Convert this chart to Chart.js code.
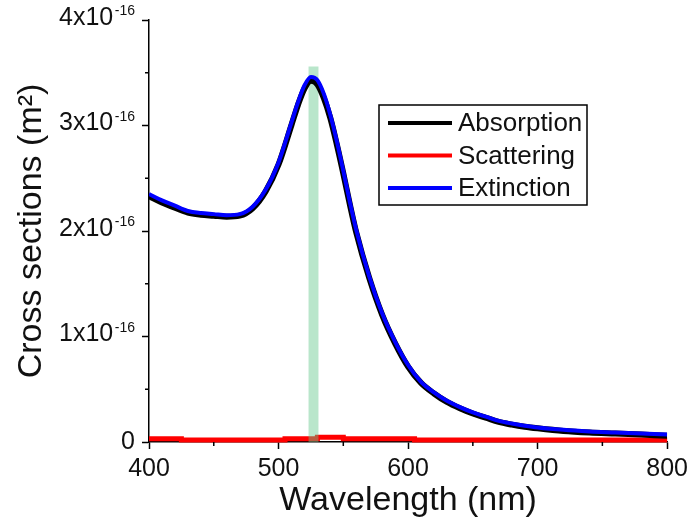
<!DOCTYPE html>
<html><head><meta charset="utf-8">
<script src="https://cdn.jsdelivr.net/npm/chart.js@4.4.1/dist/chart.umd.min.js"></script>
<style>html,body{margin:0;padding:0;background:#fff;overflow:hidden;}</style>
</head><body>
<canvas id="c" width="693" height="527"></canvas>
<script>
// Wavelength grid (nm)
const wavelengths = [400,410,420,430,440,450,460,470,480,490,500,510,515,520,525,530,535,540,545,550,555,560,570,580,590,600,610,620,630,640,650,660,670,680,690,700,720,740,760,780,800];
// Cross sections in units of 1e-16 m^2
const absorption = [2.33,2.27,2.22,2.175,2.155,2.145,2.135,2.145,2.215,2.375,2.63,3.005,3.195,3.35,3.425,3.39,3.26,3.07,2.82,2.545,2.255,1.985,1.555,1.205,0.935,0.715,0.56,0.46,0.38,0.32,0.27,0.23,0.19,0.165,0.145,0.13,0.105,0.09,0.08,0.07,0.06];
const extinction = [2.35,2.29,2.24,2.19,2.17,2.16,2.15,2.16,2.23,2.39,2.65,3.03,3.22,3.38,3.46,3.43,3.30,3.10,2.85,2.57,2.28,2.01,1.57,1.22,0.95,0.73,0.57,0.47,0.39,0.33,0.28,0.24,0.20,0.175,0.155,0.138,0.115,0.10,0.09,0.08,0.07];
const scatteringWl = [400,425,505,530,550,605,800];
const scattering = [0.03,0.02,0.03,0.045,0.03,0.018,0.018];
// Highlight band (nm) and its top (1e-16 m^2)
const bandWl = [523,531];
const bandTop = [3.56,3.56];
const seriesNames = ['Absorption','Scattering','Extinction'];
const seriesColors = ['#000000','#ff0000','#0000ff'];
const xTickValues = [400,500,600,700,800];
const xMinorTicks = [450,550,650,750];
const yTickValues = [0,1,2,3,4];
const yMinorTicks = [0.5,1.5,2.5,3.5];
const yExponent = '-16';
const xTitle = 'Wavelength (nm)';
const yTitle = 'Cross sections (m\u00B2)';

const FONT = '"Liberation Sans", Arial, sans-serif';
const pts = (xs, ys) => xs.map((x, i) => ({x, y: ys[i]}));

const overlay = {
  id: 'overlay',
  afterDraw(chart) {
    const ctx = chart.ctx;
    const xs = chart.scales.x, ys = chart.scales.y;
    ctx.save();
    ctx.strokeStyle = '#000';
    ctx.lineWidth = 1.5;
    // minor ticks
    ctx.beginPath();
    xMinorTicks.forEach(v => { const px = xs.getPixelForValue(v); ctx.moveTo(px, xs.top); ctx.lineTo(px, xs.top + 4); });
    yMinorTicks.forEach(v => { const py = ys.getPixelForValue(v); ctx.moveTo(ys.right, py); ctx.lineTo(ys.right - 4, py); });
    ctx.stroke();
    // y tick labels with superscript exponent
    ctx.fillStyle = '#111';
    yTickValues.forEach(v => {
      const py = ys.getPixelForValue(v);
      const rightEdge = ys.right - 14;
      if (v === 0) {
        ctx.font = '25px ' + FONT;
        ctx.textAlign = 'right'; ctx.textBaseline = 'middle';
        ctx.fillText('0', rightEdge, py);
      } else {
        ctx.font = '14px ' + FONT;
        const supW = ctx.measureText(yExponent).width;
        ctx.textAlign = 'right'; ctx.textBaseline = 'alphabetic';
        ctx.fillText(yExponent, rightEdge, py - 5);
        ctx.font = '25px ' + FONT;
        ctx.textBaseline = 'middle';
        ctx.fillText(v + 'x10', rightEdge - supW - 1.5, py - 2);
      }
    });
    // legend
    const a = chart.chartArea;
    const lx = a.left + 230, ly = a.top + 85, lw = 208, lh = 100;
    ctx.fillStyle = '#fff';
    ctx.fillRect(lx, ly, lw, lh);
    ctx.lineWidth = 1.5;
    ctx.strokeStyle = '#000';
    ctx.strokeRect(lx, ly, lw, lh);
    seriesNames.forEach((name, i) => {
      const yy = ly + 18 + i * 32.5;
      ctx.beginPath();
      ctx.strokeStyle = seriesColors[i];
      ctx.lineWidth = 4;
      ctx.moveTo(lx + 9, yy); ctx.lineTo(lx + 73, yy);
      ctx.stroke();
      ctx.fillStyle = '#111';
      ctx.font = '26px ' + FONT;
      ctx.textAlign = 'left'; ctx.textBaseline = 'middle';
      ctx.fillText(name, lx + 79, yy + 1);
    });
    ctx.restore();
  }
};

new Chart(document.getElementById('c'), {
  type: 'line',
  data: {
    datasets: [
      { label: seriesNames[2], data: pts(wavelengths, extinction), borderColor: seriesColors[2], borderWidth: 4, pointRadius: 0, cubicInterpolationMode: 'monotone', order: 0 },
      { label: seriesNames[0], data: pts(wavelengths, absorption), borderColor: seriesColors[0], borderWidth: 6, pointRadius: 0, cubicInterpolationMode: 'monotone', order: 1 },
      { label: 'band', data: pts(bandWl, bandTop), borderWidth: 0, borderColor: 'rgba(0,0,0,0)', backgroundColor: 'rgba(100,200,140,0.45)', fill: 'origin', pointRadius: 0, order: 2 },
      { label: seriesNames[1], data: pts(scatteringWl, scattering), borderColor: seriesColors[1], borderWidth: 5, pointRadius: 0, stepped: 'before', order: 3, clip: 6 }
    ]
  },
  options: {
    responsive: false, animation: false, devicePixelRatio: 1,
    layout: { padding: { top: 20, right: 24, left: 0, bottom: 0 } },
    plugins: { legend: { display: false }, tooltip: { enabled: false } },
    scales: {
      x: {
        type: 'linear', min: 400, max: 800,
        afterFit(s) { s.height = 85; },
        afterBuildTicks(s) { s.ticks = xTickValues.map(v => ({value: v})); },
        ticks: { font: { size: 25, family: FONT }, color: '#111', padding: 5, maxRotation: 0 },
        grid: { drawOnChartArea: false, tickLength: 7, tickColor: '#000', tickWidth: 1.5 },
        border: { color: '#000', width: 1.5 },
        title: { display: true, text: xTitle, color: '#111', font: { size: 34, family: FONT, lineHeight: 1.2 }, padding: { top: 0, bottom: 6 } }
      },
      y: {
        type: 'linear', min: 0, max: 4,
        afterFit(s) { s.width = 149; },
        afterBuildTicks(s) { s.ticks = yTickValues.map(v => ({value: v})); },
        ticks: { display: false },
        grid: { drawOnChartArea: false, tickLength: 7, tickColor: '#000', tickWidth: 1.5 },
        border: { color: '#000', width: 1.5 },
        title: { display: true, text: yTitle, color: '#111', font: { size: 34, family: FONT, lineHeight: 1.2 }, padding: { top: 11, bottom: 0 } }
      }
    }
  },
  plugins: [overlay]
});
</script>
</body></html>
